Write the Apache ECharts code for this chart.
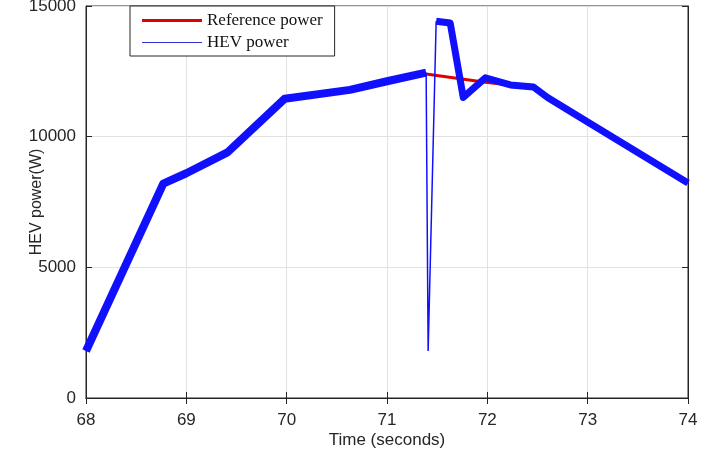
<!DOCTYPE html>
<html>
<head>
<meta charset="utf-8">
<script src="https://cdn.jsdelivr.net/npm/echarts@6/dist/echarts.min.js"></script>
<style>html,body{margin:0;padding:0;background:#fff;}#c{width:702px;height:457px;}</style>
</head>
<body>
<div id="c"></div>
<script>
const xTicks = [68, 69, 70, 71, 72, 73, 74];
const yTicks = [0, 5000, 10000, 15000];
const hevTime = [68, 68.77, 69.0, 69.41, 69.98, 70.63, 71.0, 71.39, 71.41, 71.49, 71.63, 71.76, 71.98, 72.23, 72.46, 72.6, 73.0, 74];
const hevPower = [1800, 8200, 8600, 9400, 11450, 11790, 12120, 12450, 1800, 14420, 14350, 11500, 12250, 11980, 11900, 11500, 10560, 8230];
const refTime = [68, 68.77, 69.0, 69.41, 69.98, 70.63, 71.0, 71.39, 71.98, 72.23, 72.46, 72.6, 73.0, 74];
const refPower = [1800, 8200, 8600, 9400, 11450, 11790, 12120, 12400, 12080, 11980, 11900, 11500, 10560, 8230];

const pairs = (ts, vs, a, b) => ts.slice(a, b).map((t, i) => [t, vs[a + i]]);
const hevBand1 = pairs(hevTime, hevPower, 0, 8);
const hevThin = pairs(hevTime, hevPower, 7, 10);
const hevBand2 = pairs(hevTime, hevPower, 9, hevTime.length);
const refData = pairs(refTime, refPower, 0, refTime.length);

const chart = echarts.init(document.getElementById('c'));
const axisFont = {fontFamily: 'Liberation Sans, Arial, sans-serif', fontSize: 17, color: '#262626'};
const nameFont = {fontFamily: 'Liberation Sans, Arial, sans-serif', fontSize: 16, color: '#262626'};
const blue = '#1010ff';
const red = '#e00000';
chart.setOption({
  animation: false,
  backgroundColor: '#fff',
  grid: {left: 86, right: 14, top: 6, bottom: 59, show: true, borderColor: '#262626', borderWidth: 1,
         containLabel: false, outerBoundsMode: 'none'},
  legend: {
    left: 130, top: 6, orient: 'vertical',
    backgroundColor: '#fff', borderColor: '#262626', borderWidth: 1,
    padding: [6, 12, 5, 12], itemGap: 5, itemWidth: 60, itemHeight: 14,
    textStyle: {fontFamily: 'Liberation Serif, Times New Roman, serif', fontSize: 17, color: '#111'},
    data: [
      {name: 'Reference power', icon: 'path://M0,0L60,0L60,3L0,3Z', itemStyle: {color: red}},
      {name: 'HEV power', icon: 'path://M0,0L60,0L60,1L0,1Z', itemStyle: {color: '#3030d0'}}
    ]
  },
  xAxis: [{
    type: 'value', min: xTicks[0], max: xTicks[xTicks.length - 1], interval: 1,
    name: 'Time (seconds)', nameLocation: 'middle', nameGap: 34, nameMoveOverlap: false,
    nameTextStyle: axisFont,
    axisLine: {show: true, lineStyle: {color: '#262626'}},
    axisTick: {inside: true, length: 6, lineStyle: {color: '#262626'}},
    axisLabel: Object.assign({margin: 14}, axisFont),
    splitLine: {show: true, lineStyle: {color: '#e2e2e2'}}
  }, {
    type: 'value', position: 'top', min: xTicks[0], max: xTicks[xTicks.length - 1], interval: 1,
    axisLine: {show: true, lineStyle: {color: '#262626'}},
    axisTick: {inside: true, length: 6, lineStyle: {color: '#262626'}},
    axisLabel: {show: false}, splitLine: {show: false}
  }],
  yAxis: [{
    type: 'value', min: yTicks[0], max: yTicks[yTicks.length - 1], interval: 5000,
    name: 'HEV power(W)', nameLocation: 'middle', nameGap: 41, nameMoveOverlap: false,
    nameTextStyle: nameFont,
    axisLine: {show: true, lineStyle: {color: '#262626'}},
    axisTick: {inside: true, length: 6, lineStyle: {color: '#262626'}},
    axisLabel: Object.assign({margin: 10, formatter: v => String(v)}, axisFont),
    splitLine: {show: true, lineStyle: {color: '#e2e2e2'}}
  }, {
    type: 'value', position: 'right', min: yTicks[0], max: yTicks[yTicks.length - 1], interval: 5000,
    axisLine: {show: true, lineStyle: {color: '#262626'}},
    axisTick: {inside: true, length: 6, lineStyle: {color: '#262626'}},
    axisLabel: {show: false}, splitLine: {show: false}
  }],
  series: [
    {name: 'Reference power', type: 'line', data: refData, symbol: 'none', z: 2,
     lineStyle: {color: red, width: 3}, itemStyle: {color: red}},
    {name: 'HEV power', type: 'line', data: hevBand1, symbol: 'none', z: 3,
     lineStyle: {color: blue, width: 8, join: 'round'}, itemStyle: {color: blue}},
    {name: 'HEV power', type: 'line', data: hevThin, symbol: 'none', z: 3,
     lineStyle: {color: blue, width: 1.5}, itemStyle: {color: blue}},
    {name: 'HEV power', type: 'line', data: hevBand2, symbol: 'none', z: 3,
     lineStyle: {color: blue, width: 7, join: 'round'}, itemStyle: {color: blue}}
  ]
});
</script>
</body>
</html>
